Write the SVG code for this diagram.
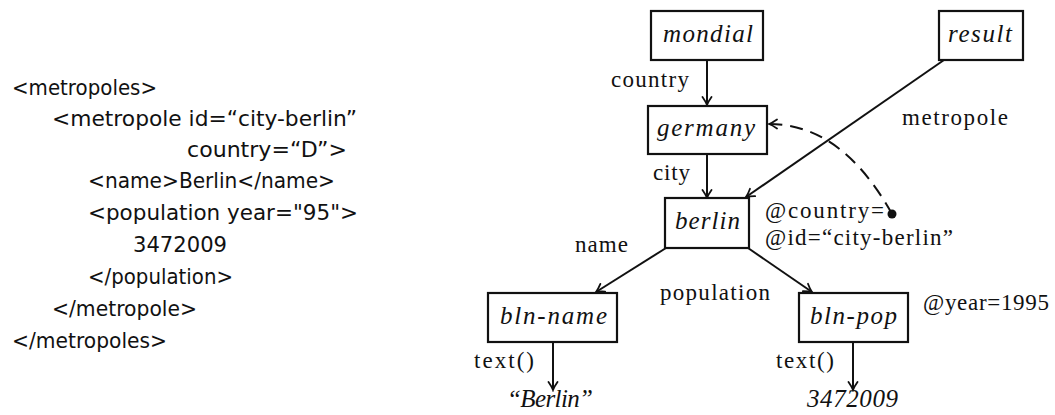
<svg xmlns="http://www.w3.org/2000/svg" width="1055" height="415" viewBox="0 0 1055 415">
  <style>
    .src { font-family: "DejaVu Sans", "Liberation Sans", sans-serif; font-size: 22px; fill: #111; }
    .lbl { font-family: "Liberation Serif", "DejaVu Serif", serif; font-size: 23px; fill: #111; }
    .nd  { font-family: "Liberation Serif", "DejaVu Serif", serif; font-style: italic; font-size: 25px; fill: #111; }
    .box { fill: #fff; stroke: #111; stroke-width: 2.2; }
    .edge { fill: none; stroke: #111; stroke-width: 2; }
    .ref { fill: none; stroke: #111; stroke-width: 2; stroke-dasharray: 13 8; }
  </style>
  <defs>
    <marker id="tip" viewBox="-10 -6 12 12" markerWidth="12" markerHeight="12" refX="0" refY="0" orient="auto" markerUnits="userSpaceOnUse">
      <path d="M -8 -4.5 Q -3 -1 0 0 Q -3 1 -8 4.5" fill="none" stroke="#111" stroke-width="1.8" stroke-linecap="round"/>
    </marker>
  </defs>

  <!-- XML source listing -->
  <g id="xml-source">
    <text class="src" x="12" y="95" textLength="145" lengthAdjust="spacingAndGlyphs">&lt;metropoles&gt;</text>
    <text class="src" x="52" y="126" textLength="305" lengthAdjust="spacingAndGlyphs">&lt;metropole id=“city-berlin”</text>
    <text class="src" x="187" y="157" textLength="160" lengthAdjust="spacingAndGlyphs">country=“D”&gt;</text>
    <text class="src" x="88" y="188" textLength="247" lengthAdjust="spacingAndGlyphs">&lt;name&gt;Berlin&lt;/name&gt;</text>
    <text class="src" x="88" y="220" textLength="270" lengthAdjust="spacingAndGlyphs">&lt;population year="95"&gt;</text>
    <text class="src" x="133" y="252" textLength="94" lengthAdjust="spacingAndGlyphs">3472009</text>
    <text class="src" x="88" y="284" textLength="145" lengthAdjust="spacingAndGlyphs">&lt;/population&gt;</text>
    <text class="src" x="52" y="316" textLength="145" lengthAdjust="spacingAndGlyphs">&lt;/metropole&gt;</text>
    <text class="src" x="12" y="348" textLength="155" lengthAdjust="spacingAndGlyphs">&lt;/metropoles&gt;</text>
  </g>

  <!-- connectors -->
  <g id="connectors">
    <line class="edge" x1="707" y1="60" x2="707" y2="105" marker-end="url(#tip)"/>
    <line class="edge" x1="707" y1="154" x2="707" y2="198" marker-end="url(#tip)"/>
    <line class="edge" x1="944" y1="60" x2="746" y2="197" marker-end="url(#tip)"/>
    <line class="edge" x1="666" y1="248" x2="596" y2="292" marker-end="url(#tip)"/>
    <line class="edge" x1="748" y1="248" x2="812" y2="292" marker-end="url(#tip)"/>
    <line class="edge" x1="553" y1="342" x2="553" y2="390" marker-end="url(#tip)"/>
    <line class="edge" x1="853" y1="342" x2="853" y2="390" marker-end="url(#tip)"/>
    <path class="ref" d="M 892 214 Q 842 124 769 124" marker-end="url(#tip)"/>
    <circle cx="892" cy="214" r="4.5" fill="#111"/>
  </g>

  <!-- edge labels and attributes -->
  <g id="labels">
    <text class="lbl" x="611" y="87" textLength="78" lengthAdjust="spacing">country</text>
    <text class="lbl" x="902" y="125" textLength="106" lengthAdjust="spacing">metropole</text>
    <text class="lbl" x="653" y="180" textLength="37" lengthAdjust="spacing">city</text>
    <text class="lbl" x="765" y="218" textLength="119" lengthAdjust="spacing">@country=</text>
    <text class="lbl" x="765" y="245" textLength="188" lengthAdjust="spacing">@id=“city-berlin”</text>
    <text class="lbl" x="575" y="252" textLength="53" lengthAdjust="spacing">name</text>
    <text class="lbl" x="660" y="300" textLength="110" lengthAdjust="spacing">population</text>
    <text class="lbl" x="923" y="310" textLength="126" lengthAdjust="spacing">@year=1995</text>
    <text class="lbl" x="474" y="368" textLength="60" lengthAdjust="spacing">text()</text>
    <text class="lbl" x="776" y="368" textLength="58" lengthAdjust="spacing">text()</text>
  </g>

  <g id="mondial">
    <rect class="box" x="651" y="11" width="112" height="49"/>
    <text class="nd" x="663" y="42" textLength="90" lengthAdjust="spacing">mondial</text>
  </g>
  <g id="result">
    <rect class="box" x="939" y="11" width="84" height="49"/>
    <text class="nd" x="948" y="42" textLength="64" lengthAdjust="spacing">result</text>
  </g>
  <g id="germany">
    <rect class="box" x="648" y="106" width="119" height="48"/>
    <text class="nd" x="657" y="136" textLength="98" lengthAdjust="spacing">germany</text>
  </g>
  <g id="berlin">
    <rect class="box" x="665" y="198" width="84" height="50"/>
    <text class="nd" x="675" y="229" textLength="65" lengthAdjust="spacing">berlin</text>
  </g>
  <g id="bln-name">
    <rect class="box" x="488" y="293" width="129" height="49"/>
    <text class="nd" x="500" y="324" textLength="107" lengthAdjust="spacing">bln-name</text>
  </g>
  <g id="bln-pop">
    <rect class="box" x="799" y="293" width="109" height="49"/>
    <text class="nd" x="810" y="324" textLength="87" lengthAdjust="spacing">bln-pop</text>
  </g>
  <g id="berlin-value">
    <text class="nd" x="507" y="407" textLength="86" lengthAdjust="spacing">“Berlin”</text>
  </g>
  <g id="population-value">
    <text class="nd" x="807" y="407" textLength="91" lengthAdjust="spacing">3472009</text>
  </g>
</svg>
